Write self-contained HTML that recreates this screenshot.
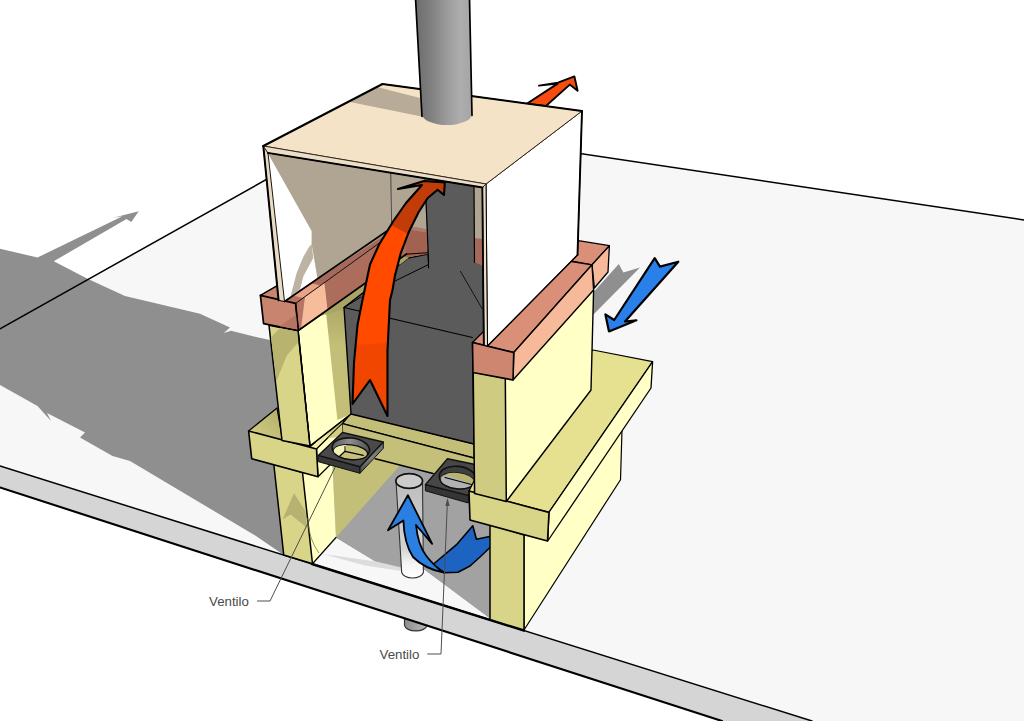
<!DOCTYPE html>
<html><head><meta charset="utf-8"><title>Ventilo</title>
<style>
html,body{margin:0;padding:0;background:#fff;}
body{width:1024px;height:721px;overflow:hidden;position:relative;font-family:"Liberation Sans",sans-serif;}
svg{position:absolute;left:0;top:0;display:block;}
.lbl{font-family:"Liberation Sans",sans-serif;font-size:13.3px;fill:#4a4a4a;}
</style></head><body>
<svg width="1024" height="721" viewBox="0 0 1024 721">
<defs>
<linearGradient id="gch" x1="0" x2="1" y1="0" y2="0"><stop offset="0" stop-color="#6c6c6c"/><stop offset="0.3" stop-color="#828282"/><stop offset="0.55" stop-color="#9b9b9b"/><stop offset="0.8" stop-color="#adadad"/><stop offset="1" stop-color="#a5a5a5"/></linearGradient>
<linearGradient id="gpipe" x1="0" x2="0" y1="0" y2="1"><stop offset="0" stop-color="#bdbdbd"/><stop offset="0.7" stop-color="#d4d4d4"/><stop offset="0.85" stop-color="#f4f4f4"/><stop offset="1" stop-color="#ffffff"/></linearGradient>
<linearGradient id="gstub" x1="0" x2="1" y1="0" y2="0"><stop offset="0" stop-color="#8c8c8c"/><stop offset="1" stop-color="#bcbcbc"/></linearGradient>
<linearGradient id="gvr" x1="0" x2="1" y1="1" y2="0"><stop offset="0" stop-color="#4a4a4a"/><stop offset="0.5" stop-color="#808080"/><stop offset="1" stop-color="#6a6a6a"/></linearGradient>
<linearGradient id="gvi" x1="0" x2="1" y1="0" y2="0"><stop offset="0" stop-color="#5c5c5c"/><stop offset="0.45" stop-color="#8e8e8e"/><stop offset="1" stop-color="#505050"/></linearGradient>
<linearGradient id="gys" gradientUnits="userSpaceOnUse" x1="0" y1="298" x2="0" y2="345"><stop offset="0" stop-color="#a8a464"/><stop offset="1" stop-color="#c3bf78"/></linearGradient>
<linearGradient id="gsl" x1="0" x2="1" y1="1" y2="0"><stop offset="0" stop-color="#d6d288"/><stop offset="1" stop-color="#b0ac68"/></linearGradient>
<linearGradient id="gstrip" x1="0" x2="1" y1="1" y2="0"><stop offset="0" stop-color="#f2eea8"/><stop offset="0.35" stop-color="#eeeaa2"/><stop offset="0.5" stop-color="#c8c47c"/><stop offset="1" stop-color="#c6c27c"/></linearGradient>
</defs>
<path d="M404.5,612 L404.5,625.5 A11.3,6 0 0 0 427,625.5 L427,616 Z" fill="url(#gstub)" stroke="#333" stroke-width="1.2"/>
<polygon points="0,328.75 369,122 1024,220 1024,721 812,721 0,466" fill="#f7f7f7" />
<polygon points="0,466 812,721 722,721 0,487.5" fill="#d5d5d5" />
<polygon points="0,248.75 37.5,257.5 122.5,216.3 112.5,218 123,215.2 138.75,211.25 131.25,222 126.5,219 53.75,261.25 87.5,278.75 125,296 200,313.75 230,327.5 223.75,333 231,330.75 256,337 270,340 350,340 490,450 490,618 425,570 402,568 375,561 336,537.5 300,545 283.75,555 256,536 130,461 112.5,456 80,437.5 85,432.5 47,413 51,421 37.5,406 0,385" fill="#8f8f8f" />
<polygon points="336,537.5 402,455 490,455 490,618.6 425,570 401.5,568.8 376,562" fill="#a2a2a2" />
<polygon points="323,554 376,561.5 401.5,567.5 401.5,571 365,565.5" fill="#dcdcdc" />
<polyline points="0,328.75 369,122 1024,220" fill="none" stroke="#000" stroke-width="1.5" stroke-linecap="round" stroke-linejoin="round" />
<polyline points="0,466 812,721" fill="none" stroke="#000" stroke-width="1.5" stroke-linecap="round" stroke-linejoin="round" />
<polyline points="312,564 524,630.6" fill="none" stroke="#000" stroke-width="2.4" stroke-linecap="round" stroke-linejoin="round" />
<polyline points="0,487.5 722,721" fill="none" stroke="#000" stroke-width="2.1" stroke-linecap="round" stroke-linejoin="round" />
<polygon points="590,296 618.8,263.9 623.4,272.4 640,267.4 590,318" fill="#8f8f8f" />
<polygon points="332,455 402,455 402,463 336,537.5" fill="#c3bf78" />
<polygon points="302.5,472.5 332,455 336,537.5 312.5,563.75" fill="#ffffc6" />
<polyline points="336,537.5 312.5,563.75" fill="none" stroke="#000" stroke-width="1.2" stroke-linecap="round" stroke-linejoin="round" />
<polygon points="273.75,463.75 302.5,472.5 312.5,563.75 283.75,555" fill="#d8d488" stroke="#000" stroke-width="1.5" stroke-linejoin="round" />
<polygon points="294,493.3 305.3,511 306.8,527.5 290.5,514.5 282.5,519.5" fill="#b7b172" />
<path d="M307.4,518 Q309,540 319,553" fill="none" stroke="#6a6840" stroke-width="0.7"/>
<path d="M396,481 L401.7,572.5 A11,6.5 0 0 0 423.4,572.5 L422.5,481 Z" fill="url(#gpipe)" stroke="#333" stroke-width="1.1"/>
<ellipse cx="409.2" cy="481" rx="13.3" ry="7.4" fill="#cbcbcb" stroke="#111" stroke-width="1.7"/>
<polygon points="351,413.4 474,444 474,458 342.5,423.6" fill="#c3bf78" stroke="#000" stroke-width="1.2" stroke-linejoin="round" />
<polygon points="342.5,423.6 474,458 474,486 433,473.6 375.3,458.75 342.5,452" fill="#c4c07a" />
<polyline points="342.5,423.6 474,458" fill="none" stroke="#000" stroke-width="1.4" stroke-linecap="round" stroke-linejoin="round" />
<polyline points="375.3,458.75 433,473.6" fill="none" stroke="#000" stroke-width="1.6" stroke-linecap="round" stroke-linejoin="round" />
<polygon points="425.4,484.6 468.3,495.4 468.3,503 425.4,490.8" fill="#353535" stroke="#111" stroke-width="1" stroke-linejoin="round" />
<polygon points="447.5,458.75 425.4,484.6 468.3,495.4 492,468" fill="#474747" stroke="#111" stroke-width="1.4" stroke-linejoin="round" />
<g transform="rotate(6 457.5 477.5)"><ellipse cx="457.5" cy="477.5" rx="18.3" ry="11.2" fill="#3f3f3f" stroke="#111" stroke-width="1.6"/><ellipse cx="457.5" cy="480.8" rx="17" ry="7.9" fill="#b2b2b2" stroke="#111" stroke-width="1.3"/><path d="M440.5,480.8 A17,7.9 0 0 1 474.5,480.8 L474.5,483 L445,475.5 Z" fill="#b8b470"/></g>
<polyline points="445,477.5 473.3,485" fill="none" stroke="#000" stroke-width="1.1" stroke-linecap="round" stroke-linejoin="round" />
<polygon points="433,564.5 456.5,544.7 472.8,525.8 476.4,539.3 492,536 492,545.5 480,557 470,566 458,572.3 444,572.7" fill="#1c63c2" stroke="#000" stroke-width="1.6" stroke-linejoin="round" />
<path d="M403.4,520.4 L388,530.3 L407.9,495.2 L432.2,543.8 L416,525 Q418,545 426,555.5 Q434,566 444,572.7 Q425,569 413,557 Q404,543 403.4,520.4 Z" fill="#2b7fe0" stroke="#000" stroke-width="1.8" stroke-linejoin="round"/>
<polygon points="524,535 622,430 620.5,479.7 524,630" fill="#ffffc6" stroke="#000" stroke-width="1.2" stroke-linejoin="round" />
<polygon points="490,524 524,535 524,630 490,619.5" fill="#d8d488" stroke="#000" stroke-width="1.5" stroke-linejoin="round" />
<polygon points="593,350 652.6,361.7 549,512.2 469,491 475.5,478 490,420" fill="#e5e190" stroke="#000" stroke-width="1.2" stroke-linejoin="round" />
<polygon points="652.6,361.7 651,388 547.7,541 549,512.2" fill="#ffffc6" stroke="#000" stroke-width="1.3" stroke-linejoin="round" />
<polygon points="469,491 549,512.5 547.5,541 470,520" fill="#d8d488" stroke="#000" stroke-width="1.6" stroke-linejoin="round" />
<polygon points="248.6,431 277,408 283,442" fill="url(#gsl)" stroke="#000" stroke-width="1.3" stroke-linejoin="round" />
<polygon points="309.5,447.8 316.5,449 342.3,423.6 351,409" fill="url(#gstrip)" stroke="#000" stroke-width="1" stroke-linejoin="round" />
<polygon points="316.5,449 342.3,423.6 343,452 318,476.7" fill="#ffffc6" stroke="#000" stroke-width="1.2" stroke-linejoin="round" />
<polygon points="328,438 342.3,424.2 342.6,437" fill="#d2ce86" />
<polygon points="248.6,431 316.5,449 318,476.7 251.7,458.7" fill="#d8d488" stroke="#000" stroke-width="1.6" stroke-linejoin="round" />
<polygon points="318.3,455.4 360,466.7 360,473.3 318.3,461.7" fill="#383838" stroke="#111" stroke-width="1" stroke-linejoin="round" />
<polygon points="360,466.7 383.3,442 383.3,448.3 360,473.3" fill="url(#gvr)" stroke="#111" stroke-width="1" stroke-linejoin="round" />
<polygon points="342.5,432.5 383.3,442 360,466.7 318.3,455.4" fill="#4a4a4a" stroke="#111" stroke-width="1.4" stroke-linejoin="round" />
<g transform="rotate(6 350.8 448.8)"><ellipse cx="350.8" cy="448.8" rx="18.8" ry="10.8" fill="url(#gvi)" stroke="#111" stroke-width="1.6"/><ellipse cx="350.9" cy="452.2" rx="17.1" ry="7.3" fill="#c6c27c" stroke="#111" stroke-width="1.3"/><path d="M334.5,454 A17.1,7.3 0 0 1 346,445.5 L346,451 L341,457.5 Z" fill="#f4f2b4"/></g>
<polyline points="339.6,456.3 345,451.3 363.3,455.4" fill="none" stroke="#000" stroke-width="1.2" stroke-linecap="round" stroke-linejoin="round" />
<polyline points="345,451.3 345,446.5" fill="none" stroke="#000" stroke-width="1" stroke-linecap="round" stroke-linejoin="round" />
<polygon points="298.3,330.5 344,298.5 351,414 310,446" fill="#ffffc6" stroke="#000" stroke-width="1.2" stroke-linejoin="round" />
<polygon points="326,312 346,297 351,414 337.4,420" fill="url(#gys)" />
<polygon points="269,325.3 298,331 310,446 282,440.5" fill="#d8d488" stroke="#000" stroke-width="1.5" stroke-linejoin="round" />
<polygon points="280,328 298,331.6 298.6,341.8 286.6,355.7 276.5,381 271,337" fill="#b8b36e" />
<polyline points="298,331 310,446" fill="none" stroke="#000" stroke-width="1.3" stroke-linecap="round" stroke-linejoin="round" />
<polyline points="310,446 351,414" fill="none" stroke="#000" stroke-width="1.2" stroke-linecap="round" stroke-linejoin="round" />
<polygon points="320,316 405,252 412,258 344,309" fill="#a8a466" />
<polygon points="344,307.5 408,258 428,254 424,175 474,180 474.5,262 483,265 484,345 472.5,342.5 474,444 351,414" fill="#5b5b5b" stroke="#000" stroke-width="1.4" stroke-linejoin="round" />
<polyline points="344,307.5 472.5,337.5" fill="none" stroke="#000" stroke-width="1.1" stroke-linecap="round" stroke-linejoin="round" />
<polyline points="344,307.5 361,297" fill="none" stroke="#000" stroke-width="1" stroke-linecap="round" stroke-linejoin="round" />
<polyline points="394,281.5 427.7,265" fill="none" stroke="#000" stroke-width="1" stroke-linecap="round" stroke-linejoin="round" />
<polyline points="460.5,271.4 482.3,309" fill="none" stroke="#000" stroke-width="0.8" stroke-linecap="round" stroke-linejoin="round" />
<polyline points="428,254 428.6,268" fill="none" stroke="#000" stroke-width="1" stroke-linecap="round" stroke-linejoin="round" />
<polygon points="390.7,165 482,180 482,262 390.7,240" fill="#b0a493" />
<polygon points="383,226 395,224 426.5,229.3 428,254 410,257 392,262" fill="#a26251" />
<polygon points="395,224 426.5,229.3 426.6,232.6 395,227.5" fill="#b27a68" />
<polygon points="397,255 409,257.5 399.5,265" fill="#a8a466" />
<polyline points="397,254.8 427.7,252.8" fill="none" stroke="#000" stroke-width="1.1" stroke-linecap="round" stroke-linejoin="round" />
<polygon points="475,238 482.5,239 482.5,266 475,263" fill="#a5685a" />
<polygon points="424,175 474,180 474.5,262 428.6,262.8" fill="#5b5b5b" />
<polyline points="474,186 474.5,262" fill="none" stroke="#000" stroke-width="1.2" stroke-linecap="round" stroke-linejoin="round" />
<polyline points="426,200 428.6,262.8" fill="none" stroke="#000" stroke-width="1.2" stroke-linecap="round" stroke-linejoin="round" />
<polygon points="260.4,295.3 387,222 402,226.7 295.6,303.4" fill="#a5685a" />
<polygon points="260.4,295.3 278,285.3 280,300" fill="#c98470" />
<polygon points="283,301.3 295.6,303.4 303,298.1 293,295.6" fill="#b87462" />
<polygon points="293,295.6 303,298.1 320.5,285.5 311,283.3" fill="#e9a488" />
<polyline points="260.4,295.3 285,281.2" fill="none" stroke="#000" stroke-width="1.5" stroke-linecap="round" stroke-linejoin="round" />
<polygon points="295.6,303.4 402,226.7 406.5,254 298.3,330.5" fill="#ac6d5d" />
<polygon points="295.6,303.4 305,296.7 301,328.3 298.3,330.5" fill="#b87462" />
<polygon points="305,296.7 324.4,282.8 327.5,309.6 301,328.3" fill="#f7bc9c" />
<polyline points="295.6,303.4 402,226.7" fill="none" stroke="#000" stroke-width="0.9" stroke-linecap="round" stroke-linejoin="round" />
<polyline points="298.3,330.5 406.5,254" fill="none" stroke="#000" stroke-width="1.7" stroke-linecap="round" stroke-linejoin="round" />
<polygon points="260.4,295.3 295.6,303.4 298.3,330.5 263.6,323.7" fill="#c98470" stroke="#000" stroke-width="1.7" stroke-linejoin="round" />
<polygon points="296.6,314 297.8,329.6 280,326.2" fill="#b87462" />
<polyline points="295.6,303.4 298.3,330.5" fill="none" stroke="#000" stroke-width="1.2" stroke-linecap="round" stroke-linejoin="round" />
<polygon points="268,153 390.7,171 390.7,231 284.5,301.5" fill="#b0a493" />
<polygon points="268,153.5 311.6,231 311.6,243.7 317.5,278.7 284.5,301.5" fill="#ffffff" />
<polygon points="311.8,244 313.2,258 303.5,276 300,289.5 290.5,296.5 296.5,273.5 303,257.5 309,247" fill="#bdb3a3" />
<polyline points="390.7,171 391.5,224" fill="none" stroke="#333" stroke-width="0.9" stroke-linecap="round" stroke-linejoin="round" />
<polyline points="284.5,301.5 387,231" fill="none" stroke="#000" stroke-width="1.7" stroke-linecap="round" stroke-linejoin="round" />
<polygon points="263.3,146 268,153 284.5,301.5 278.6,300.3" fill="#eadcc4" stroke="#000" stroke-width="0.9" stroke-linejoin="round" />
<polyline points="263.3,146 278.6,300.3" fill="none" stroke="#000" stroke-width="2" stroke-linecap="round" stroke-linejoin="round" />
<polygon points="505.3,378.3 513,380.5 593.6,290 591,390 506.3,501.5" fill="#ffffc6" />
<polyline points="593.6,290 591,390 506.3,501.5" fill="none" stroke="#000" stroke-width="1.4" stroke-linecap="round" stroke-linejoin="round" />
<polygon points="473.2,372 505.3,378.3 506.3,501.5 474.6,493.5" fill="#cfcb80" stroke="#000" stroke-width="1.5" stroke-linejoin="round" />
<polygon points="578.4,240.7 609.4,245.7 592,264.8 560,259" fill="#d98f78" stroke="#000" stroke-width="1.3" stroke-linejoin="round" />
<polygon points="609.4,245.7 608,272 594.4,288 592,264.8" fill="#f6ba9a" stroke="#000" stroke-width="1.3" stroke-linejoin="round" />
<polygon points="472.5,342.5 556,259 592,264.8 513.75,352.5" fill="#d98f78" stroke="#000" stroke-width="1.3" stroke-linejoin="round" />
<polygon points="513.75,352.5 592,264.8 593.6,290 513,380" fill="#f6ba9a" stroke="#000" stroke-width="1.4" stroke-linejoin="round" />
<polygon points="472.5,342.5 513.75,352.5 513,380 473,372.5" fill="#cf8670" stroke="#000" stroke-width="1.6" stroke-linejoin="round" />
<polygon points="526.4,104 557.6,83.6 539,85.6 558,82.6 574.4,76.4 577.6,90.8 569.8,84.6 545.9,106" fill="#f74c10" stroke="#000" stroke-width="1.9" stroke-linejoin="round" />
<polygon points="486,184 582,111 577.5,255 487.5,346" fill="#ffffff" stroke="#000" stroke-width="1.0" stroke-linejoin="round" />
<polyline points="582,111 577.5,255" fill="none" stroke="#000" stroke-width="1.9" stroke-linecap="round" stroke-linejoin="round" />
<polyline points="577.5,255 487.5,346" fill="none" stroke="#000" stroke-width="1.5" stroke-linecap="round" stroke-linejoin="round" />
<polygon points="482.5,187.5 486,184 487.5,346 484,345" fill="#eadcc4" stroke="#000" stroke-width="1" stroke-linejoin="round" />
<polyline points="482.3,187.5 483.8,345" fill="none" stroke="#000" stroke-width="1.8" stroke-linecap="round" stroke-linejoin="round" />
<polygon points="263.3,146 382.5,84 582,111 486,184" fill="#f5e3c8" stroke="#2a1d10" stroke-width="0.9" stroke-linejoin="round" />
<polyline points="382.5,84 582,111" fill="none" stroke="#000" stroke-width="1.9" stroke-linecap="round" stroke-linejoin="round" />
<polygon points="377,87 420,98 424,117 350,102" fill="#b8ab98" />
<polygon points="263.3,146 486,184 482.5,187.5 268,153" fill="#ebdfca" stroke="#2a1d10" stroke-width="0.9" stroke-linejoin="round" />
<polyline points="267.8,152.9 482.5,187.5" fill="none" stroke="#000" stroke-width="1.9" stroke-linecap="round" stroke-linejoin="round" />
<polyline points="263.3,146 382.5,84" fill="none" stroke="#000" stroke-width="2" stroke-linecap="round" stroke-linejoin="round" />
<path d="M415.5,-1 L422,114 A25,11 0 0 0 472,114 L469.5,-1 Z" fill="url(#gch)"/>
<polyline points="415.5,-2 422,116.5" fill="none" stroke="#000" stroke-width="1.7" stroke-linecap="round" stroke-linejoin="round" />
<polyline points="469.5,-2 472,115.5" fill="none" stroke="#000" stroke-width="1.7" stroke-linecap="round" stroke-linejoin="round" />
<polygon points="352.5,404 354,362.5 357.5,325 362.5,300 370,264.5 379,244.7 393.4,221 406,203 422,185 398,189 424,181 444.8,182.5 444,195 437.6,189.7 427.7,198 418.7,212 408.8,232 400.6,253.7 395,275.4 392.5,290 390,300 387.5,350 387.5,416 370,380" fill="#ff4a00" />
<polygon points="391,225 406,203 422,185 398,189 424,181 444.8,182.5 444,195 437.6,189.7 427.7,198 418.7,212 408,234" fill="#c23c0a" />
<polygon points="355.8,345 387.5,343 387.5,416 370,380 352.5,404 354,362.5" fill="#f04600" />
<polygon points="352.5,404 354,362.5 357.5,325 362.5,300 370,264.5 379,244.7 393.4,221 406,203 422,185 398,189 424,181 444.8,182.5 444,195 437.6,189.7 427.7,198 418.7,212 408.8,232 400.6,253.7 395,275.4 392.5,290 390,300 387.5,350 387.5,416 370,380" fill="none" stroke="#000" stroke-width="2.1" stroke-linejoin="round" />
<polygon points="654.7,258.2 660,266.6 678.3,261.7 625,321.5 636.4,320.3 609,331.4 605.4,314.4 614.2,320" fill="#2a80ea" stroke="#000" stroke-width="2.2" stroke-linejoin="round" />
<polyline points="257.5,601 270,601 335,467.5" fill="none" stroke="#4e4e4e" stroke-width="1" stroke-linecap="round" stroke-linejoin="round" />
<polyline points="427.6,654 441,654 447.5,500" fill="none" stroke="#4e4e4e" stroke-width="1" stroke-linecap="round" stroke-linejoin="round" />
<polygon points="447.5,498 445.3,506 449.7,506" fill="#4e4e4e" />
<text class="lbl" x="209" y="606">Ventilo</text>
<text class="lbl" x="379.5" y="659">Ventilo</text>
</svg>
</body></html>
